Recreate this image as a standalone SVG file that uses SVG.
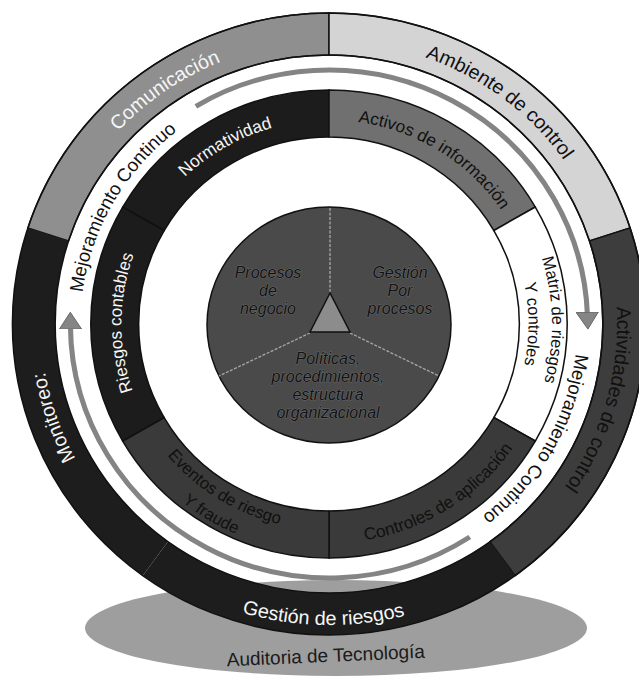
<svg xmlns="http://www.w3.org/2000/svg" width="639" height="677" viewBox="0 0 639 677">
<style>
  text { font-family: "Liberation Sans", Arial, Helvetica, sans-serif; }
  .seg { stroke: #111; stroke-width: 1.5; }
  .outer { font-size: 19.5px; text-anchor: middle; }
  .mid { font-size: 17px; text-anchor: middle; }
  .mid2 { font-size: 16.5px; text-anchor: middle; }
  .mej { font-size: 18.5px; fill: #111; text-anchor: middle; }
  .ctr { font-size: 16px; font-style: italic; fill: #121212; text-anchor: middle; stroke: #8a8a8a; stroke-width: 0.5; paint-order: stroke; }
  .w { fill: #f6f6f6; }
  .k { fill: #101010; }
  .arrow { fill: none; stroke: #848484; stroke-width: 5; }
  .sep { stroke: #a8a8a8; stroke-width: 1.3; stroke-dasharray: 3 1.5; fill: none; }
</style>
<defs>
  <path id="cw283" d="M 0 -283 A 283 283 0 1 1 0 283 A 283 283 0 1 1 0 -283"/>
  <path id="cw244" d="M 0 -244 A 244 244 0 1 1 0 244 A 244 244 0 1 1 0 -244"/>
  <path id="cw204" d="M 0 -204 A 204 204 0 1 1 0 204 A 204 204 0 1 1 0 -204"/>
  <path id="cw219" d="M 0 -219 A 219 219 0 1 1 0 219 A 219 219 0 1 1 0 -219"/>
  <path id="cw196" d="M 0 -196 A 196 196 0 1 1 0 196 A 196 196 0 1 1 0 -196"/>
  <path id="ccw301" d="M 0 -301 A 301 301 0 1 0 0 301 A 301 301 0 1 0 0 -301"/>
  <path id="ccw219" d="M 0 -219 A 219 219 0 1 0 0 219 A 219 219 0 1 0 0 -219"/>
  <path id="ccw206" d="M 0 -206 A 206 206 0 1 0 0 206 A 206 206 0 1 0 0 -206"/>
  <path id="ccw229" d="M 0 -229 A 229 229 0 1 0 0 229 A 229 229 0 1 0 0 -229"/>
  <marker id="ah" markerUnits="userSpaceOnUse" viewBox="0 0 18 24" markerWidth="18" markerHeight="24" refX="3" refY="12" orient="auto">
    <path d="M0,1 L17,12 L0,23 Z" fill="#858585" stroke="#555" stroke-width="0.8"/>
  </marker>
</defs>

<rect width="639" height="677" fill="#ffffff"/>

<g id="auditoria">
  <ellipse cx="336" cy="628" rx="251" ry="48" fill="#9e9e9e"/>
  <text x="326" y="662" font-size="19" fill="#1a1a1a" text-anchor="middle" transform="rotate(-2.5 326 660)">Auditoria de Tecnología</text>
</g>

<g transform="translate(329 324) scale(1.018 1)">
  <!-- outer ring -->
  <g id="comunicacion">
    <path class="seg" fill="#8f8f8f" d="M -295.79 -96.10 A 311 311 0 0 1 0 -311 L 0 -269 A 269 269 0 0 0 -255.85 -83.12 Z"/>
    <text class="outer w"><textPath href="#cw283" startOffset="90.4%">Comunicación</textPath></text>
  </g>
  <g id="ambiente">
    <path class="seg" fill="#d4d4d4" d="M 0 -311 A 311 311 0 0 1 295.79 -96.10 L 255.85 -83.12 A 269 269 0 0 0 0 -269 Z"/>
    <text class="outer k"><textPath href="#cw283" startOffset="10.3%">Ambiente de control</textPath></text>
  </g>
  <g id="actividades">
    <path class="seg" fill="#3d3d3d" d="M 295.79 -96.10 A 311 311 0 0 1 182.81 251.60 L 158.12 217.62 A 269 269 0 0 0 255.85 -83.12 Z"/>
    <text class="outer k"><textPath href="#cw283" startOffset="29.4%">Actividades de control</textPath></text>
  </g>
  <g id="gestion">
    <path class="seg" fill="#1d1d1d" stroke-opacity="0" d="M 182.81 251.60 A 311 311 0 0 1 -182.81 251.60 L -158.12 217.62 A 269 269 0 0 0 158.12 217.62 Z"/>
    <text class="outer w"><textPath href="#ccw301" startOffset="49.7%">Gestión de riesgos</textPath></text>
  </g>
  <g id="monitoreo">
    <path class="seg" fill="#1d1d1d" stroke-opacity="0" d="M -182.81 251.60 A 311 311 0 0 1 -295.79 -96.10 L -255.85 -83.12 A 269 269 0 0 0 -158.12 217.62 Z"/>
    <text class="outer w"><textPath href="#cw283" startOffset="69.7%">Monitoreo:</textPath></text>
  </g>

  <!-- middle ring -->
  <g id="normatividad">
    <path class="seg" fill="#1c1c1c" d="M -202.65 -117 A 234 234 0 0 1 0 -234 L 0 -187 A 187 187 0 0 0 -161.95 -93.5 Z"/>
    <text class="mid w"><textPath href="#cw204" startOffset="91.7%">Normatividad</textPath></text>
  </g>
  <g id="activos">
    <path class="seg" fill="#707070" d="M 0 -234 A 234 234 0 0 1 202.65 -117 L 161.95 -93.5 A 187 187 0 0 0 0 -187 Z"/>
    <text class="mid k"><textPath href="#cw204" startOffset="8.9%">Activos de información</textPath></text>
  </g>
  <g id="matriz">
    <path class="seg" fill="#ffffff" d="M 202.65 -117 A 234 234 0 0 1 202.65 117 L 161.95 93.5 A 187 187 0 0 0 161.95 -93.5 Z"/>
    <text class="mid2 k"><textPath href="#cw219" startOffset="24.7%">Matriz de riesgos</textPath></text>
    <text class="mid2 k"><textPath href="#cw196" startOffset="25%">Y controles</textPath></text>
  </g>
  <g id="controles">
    <path class="seg" fill="#3a3a3a" d="M 202.65 117 A 234 234 0 0 1 0 234 L 0 187 A 187 187 0 0 0 161.95 93.5 Z"/>
    <text class="mid k"><textPath href="#ccw219" startOffset="59%">Controles de aplicación</textPath></text>
  </g>
  <g id="eventos">
    <path class="seg" fill="#3a3a3a" d="M 0 234 A 234 234 0 0 1 -202.65 117 L -161.95 93.5 A 187 187 0 0 0 0 187 Z"/>
    <text class="mid2 k"><textPath href="#ccw206" startOffset="41.1%">Eventos de riesgo</textPath></text>
    <text class="mid2 k"><textPath href="#ccw229" startOffset="41.3%">Y fraude</textPath></text>
  </g>
  <g id="riesgos-contables">
    <path class="seg" fill="#1c1c1c" d="M -202.65 117 A 234 234 0 0 1 -202.65 -117 L -161.95 -93.5 A 187 187 0 0 0 -161.95 93.5 Z"/>
    <text class="mid w"><textPath href="#cw204" startOffset="75.1%">Riesgos contables</textPath></text>
  </g>

  <!-- ring outline -->
  <g id="ring-outline" fill="none" stroke="#111" stroke-width="1.5">
    <circle r="311"/>
    <circle r="269"/>
  </g>

  <!-- connectors: continuous improvement arrows -->
  <g id="connectors">
    <path class="arrow" marker-end="url(#ah)" d="M -130.8 -217.7 A 254 254 0 0 1 253.85 -8.87"/>
    <path class="arrow" marker-end="url(#ah)" d="M 138.3 213.0 A 254 254 0 0 1 -254 2.2"/>
  </g>
  <g id="mejoramiento-izq">
    <text class="mej"><textPath href="#cw244" startOffset="83.3%">Mejoramiento Continuo</textPath></text>
  </g>
  <g id="mejoramiento-der">
    <text class="mej"><textPath href="#cw244" startOffset="33.2%">Mejoramiento Continuo</textPath></text>
  </g>
</g>

<!-- center disc -->
<g id="nucleo">
  <ellipse cx="329" cy="325" rx="122" ry="118" fill="#4a4a4a" stroke="#111" stroke-width="1.5"/>
  <line class="sep" x1="330" y1="208" x2="330" y2="293"/>
  <line class="sep" x1="310" y1="333" x2="219" y2="376"/>
  <line class="sep" x1="350" y1="333" x2="439" y2="376"/>
  <polygon points="330,293 310,332 350,332" fill="#8c8c8c" stroke="#111" stroke-width="1.5"/>
</g>
<g id="procesos-negocio">
  <text class="ctr" x="268" y="278">Procesos</text>
  <text class="ctr" x="268" y="296">de</text>
  <text class="ctr" x="268" y="314">negocio</text>
</g>
<g id="gestion-procesos">
  <text class="ctr" x="400" y="278">Gestión</text>
  <text class="ctr" x="400" y="296">Por</text>
  <text class="ctr" x="400" y="314">procesos</text>
</g>
<g id="politicas">
  <text class="ctr" x="328" y="364">Políticas,</text>
  <text class="ctr" x="328" y="382">procedimientos,</text>
  <text class="ctr" x="328" y="400">estructura</text>
  <text class="ctr" x="328" y="418">organizacional</text>
</g>
</svg>
